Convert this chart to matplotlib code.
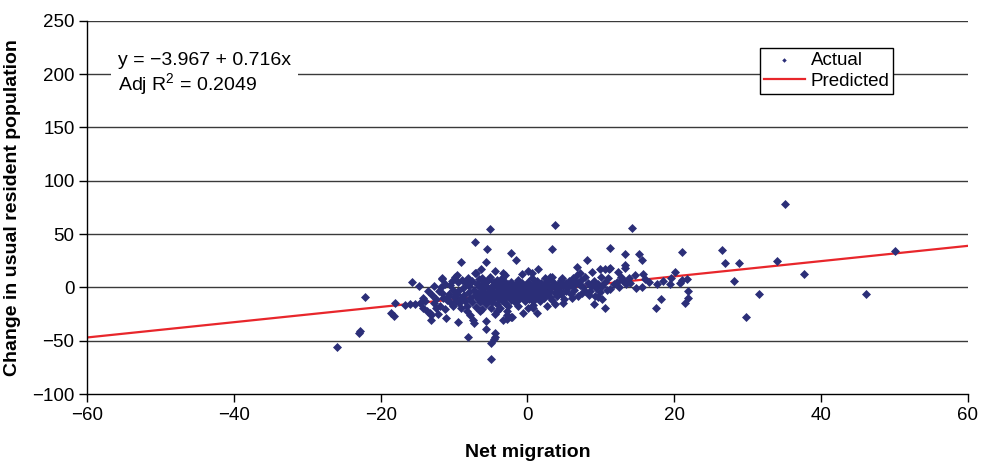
"""Scatter of change in usual resident population against net migration."""
import numpy as np
from matplotlib import pyplot as plt

plt.rcParams['font.family'] = ['Liberation Sans', 'DejaVu Sans']
plt.rcParams['mathtext.fontset'] = 'custom'
plt.rcParams['mathtext.rm'] = 'Liberation Sans'

# (net migration, change in population)
actual_pts = [
    # outliers and sparse points
    (-26.0, -56), (-23.0, -43), (-22.8, -41), (-22.1, -8.6), (-18.6, -24.2),
    (-18.2, -26.4), (-18.0, -14.2), (-16.7, -16.7), (-16.0, -16), (-15.3, -16),
    (-14.6, -14.5), (-15.7, 4.9), (-14.8, 1.1), (-12.7, 1.4), (-14.2, -9.8),
    (-14.0, -13), (-14.3, -19.2), (-13.7, -22.3), (-13.3, -23.9), (-13.1, -25.5),
    (-13.2, -30.2), (-12.4, -19.2), (-11.9, -17.6), (-12.2, -24.8), (-11.1, -28.6),
    (-11.6, -5.2), (-10.7, -6.1), (-10.1, -2), (-9.4, -3.6), (-11.7, 7.7),
    (-11.6, 8.6), (-10.6, 2.3), (-9.9, 10.1), (-9.6, 11.7), (-9.0, 24.2),
    (-7.2, 42.4), (-9.4, -32.6), (-8.1, -46.4), (-7.3, -33.6), (-8.3, -22.3),
    (-7.8, -25.5), (-7.4, -30.2), (-6.5, -22.3), (-5.6, -31.7), (-5.7, -38.6),
    (-4.4, -42.6), (-4.4, -46.7), (-4.5, -48.5), (-5.0, -52), (-5.0, -67),
    (-3.7, -19.2), (-2.8, -25.5), (-3.3, -30.2), (-4.2, -22.3), (-5.1, 54.5),
    (3.7, 58.6), (-5.5, 36.1), (-2.2, 32.3), (3.4, 36.1), (11.2, 37.3),
    (-5.6, 24.0), (-1.5, 25.8), (8.1, 25.8), (6.8, 19.5), (-6.3, 17.3),
    (-7.0, 13.3), (-4.4, 15.7), (-3.3, 13.9), (-3.1, 11.7), (-0.8, 12.7),
    (0.1, 15.7), (0.6, 13.9), (1.4, 17.3), (3.1, 9.6), (2.4, 8.6),
    (3.3, 10.1), (4.7, 8.6), (6.2, 8.6), (6.7, 11.7), (7.8, 10.1),
    (8.8, 14.8), (7.1, 13.3), (9.9, 17), (10.6, 17.5), (11.1, 17),
    (12.3, 14.8), (10.0, 10.1), (11.0, 8.6), (9.6, -9.2), (10.2, -10.8),
    (9.1, -15.5), (10.6, -19.7), (-2.2, -27.3), (-2.8, -29.5), (-2.1, -27.6),
    (-0.6, -23.6), (0.1, -18.9), (1.3, -23.7), (0.8, -19.5), (0.8, -16.1),
    (2.6, -17.4), (3.7, -15.1), (4.9, -15), (1.7, -13), (6.0, -9.8),
    (7.4, -5.2), (8.5, -3.6), (9.2, -8.2), (-1.3, -17.6), (-3.1, -14.5),
    (-2.8, -22.3), (14.3, 55.5), (13.3, 31.4), (15.2, 31.1), (15.6, 25.8),
    (13.3, 21.1), (13.3, 18), (11.2, 18), (14.6, 11.4), (15.7, 12.7),
    (16.0, 7.7), (13.2, 6.4), (13.4, 3.3), (12.2, 5.4), (12.4, 0.7),
    (14.0, 3.9), (11.2, -1.4), (15.6, 0.7), (17.6, 3), (17.5, -19.5),
    (18.2, -11), (19.4, 3), (19.6, 8.6), (20.1, 14.2), (21.0, 33.6),
    (20.8, 3.9), (21.1, 7), (21.7, 8), (21.9, -3.3), (21.8, -10.1),
    (21.5, -14.8), (26.5, 35.1), (26.9, 22.7), (28.8, 22.7), (28.1, 6.1),
    (29.8, -27.3), (31.6, -6.4), (35.1, 78), (34.0, 24.6), (37.6, 12.4),
    (46.1, -6.1), (50.1, 34.5), (-8.1, 9.2), (-7.2, 13.3), (-6.2, 8.6),
    (-5.3, 8), (-4.2, 7), (-3.5, 8.6), (3.7, 0.7), (5.1, 2.3),
    (6.0, 2.3), (6.9, 3.9),
    # dense core
    (-11.5, -10), (-11.0, -12), (-10.8, -8), (-10.5, -14), (-10.2, -17),
    (-10.0, -9), (-9.8, -12.5), (-9.6, -6), (-9.3, -15), (-9.1, -19),
    (-9.0, -10), (-8.8, -1), (-8.7, -7), (-8.5, -13), (-8.4, 4),
    (-8.2, -17), (-8.0, -4), (-7.9, 1), (-7.8, -10), (-7.6, -14),
    (-7.5, 6), (-7.3, -2), (-7.2, -7), (-7.0, -18), (-6.9, 3),
    (-6.8, -11), (-6.7, -5), (-6.6, 8), (-6.5, -14), (-6.4, 0),
    (-6.3, -8), (-6.2, -20), (-6.1, 4), (-6.0, -3), (-6.0, -12),
    (-5.9, -6), (-5.8, 2), (-5.7, -16), (-5.6, -9), (-5.5, 6),
    (-5.4, -1), (-5.3, -12), (-5.2, -4), (-5.1, 10), (-5.0, -19),
    (-5.0, -7), (-4.9, 1), (-4.8, -14), (-4.7, -3), (-4.6, 5),
    (-4.5, -10), (-4.4, -25), (-4.3, -6), (-4.2, 2), (-4.1, -16),
    (-4.0, -1), (-3.9, -11), (-3.8, 4), (-3.7, -8), (-3.6, -4),
    (-3.5, 1), (-3.4, -13), (-3.3, -2), (-3.2, 6), (-3.1, -7),
    (-3.0, -10), (-2.9, 0), (-2.8, -5), (-2.7, 3), (-2.6, -17),
    (-2.5, -8), (-2.4, -2), (-2.3, 5), (-2.2, -12), (-2.1, -4),
    (-2.0, 1), (-1.9, -7), (-1.8, -1), (-1.7, -14), (-1.6, 3),
    (-1.5, -9), (-1.4, -4), (-1.3, 7), (-1.2, -2), (-1.1, -11),
    (-1.0, 1), (-0.9, -6), (-0.8, 4), (-0.7, -3), (-0.6, -9),
    (-0.5, 0), (-0.4, -13), (-0.3, -5), (-0.2, 2), (-0.1, -8),
    (0.0, -2), (0.1, 5), (0.2, -11), (0.3, -4), (0.4, 1),
    (0.5, -7), (0.6, 9), (0.7, -1), (0.8, -13), (0.9, 3),
    (1.0, -5), (1.1, -9), (1.2, 0), (1.3, 6), (1.4, -3),
    (1.5, -8), (1.6, 2), (1.7, -1), (1.8, -6), (1.9, 4),
    (2.0, -4), (2.1, 1), (2.2, -10), (2.3, -2), (2.5, 3),
    (2.6, -6), (2.7, 6), (2.9, 0), (3.0, -9), (3.1, -3),
    (3.3, 2), (3.4, -12), (3.5, 5), (3.7, -5), (3.8, 0),
    (4.0, -8), (4.1, 3), (4.3, -2), (4.5, 7), (4.6, -6),
    (4.8, 1), (5.0, -11), (5.2, 4), (5.3, -3), (5.5, 0),
    (5.7, 6), (5.9, -6), (6.2, 1), (6.4, -2), (6.6, 5),
    (6.9, -8), (7.1, 2), (7.3, 7), (7.6, 0), (7.9, -3),
    (8.2, 4), (8.4, -7), (8.7, 1), (9.0, 6), (9.3, -1),
    (9.6, 3), (9.9, -4), (10.2, 1), (10.5, 5), (10.8, -2),
    (-13.5, -3), (-13.0, -7), (-12.5, -11), (-12.0, -3), (-11.8, 0),
    (-11.3, 3), (-12.8, -15), (-11.3, -20), (-10.3, 6), (-9.5, 5),
    (-8.9, 7), (13.8, 9), (12.8, 10), (14.8, -1), (16.5, 5),
    (18.5, 6), (11.8, 3), (12.9, 7),
]
net_migration = [p[0] for p in actual_pts]
pop_change = [p[1] for p in actual_pts]

intercept = -3.967
slope = 0.716
adj_r2 = 0.2049

x_ticks = [-60, -40, -20, 0, 20, 40, 60]
y_ticks = [-100, -50, 0, 50, 100, 150, 200, 250]

fig = plt.figure(figsize=(9.82, 4.62), dpi=100)
ax = fig.add_axes([0.0886, 0.147, 0.8971, 0.808])

for y in y_ticks[1:]:
    ax.axhline(y, color='#3a3a3a', lw=1.0, zorder=1)

line_x = np.array([x_ticks[0], x_ticks[-1]])
ax.plot(line_x, intercept + slope * line_x, color='#e8262b', lw=1.6,
        zorder=2, label='Predicted')
ax.scatter(net_migration, pop_change, marker='D', s=21, color='#2b2e78',
           linewidths=0, zorder=3, label='Actual')

ax.set_xlim(x_ticks[0], x_ticks[-1])
ax.set_ylim(y_ticks[0], y_ticks[-1])
ax.set_xticks(x_ticks)
ax.set_yticks(y_ticks)
ax.tick_params(labelsize=13.5, length=6, width=1, direction='out', pad=3)
for side in ['top', 'right']:
    ax.spines[side].set_visible(False)
for side in ['left', 'bottom']:
    ax.spines[side].set_linewidth(1.0)

ax.set_xlabel('Net migration', fontsize=14, fontweight='bold', labelpad=15)
ax.set_ylabel('Change in usual resident population', fontsize=14,
              fontweight='bold', labelpad=8)

ax.text(-55.8, 199,
        f'y = \u2212{abs(intercept)} + {slope}x\n'
        f'Adj R$^{{\\mathregular{{2}}}}$ = {adj_r2}',
        fontsize=14, va='center', ha='left', linespacing=1.15,
        bbox=dict(facecolor='white', edgecolor='none', pad=5), zorder=4)

handles, labels = ax.get_legend_handles_labels()
leg = ax.legend(handles[::-1], labels[::-1], loc='upper left',
                bbox_to_anchor=(0.764, 0.927), fontsize=13.5, frameon=True,
                fancybox=False, edgecolor='black', framealpha=1,
                handlelength=2.2, handletextpad=0.3, borderpad=0.2,
                labelspacing=0.2, markerscale=0.5, borderaxespad=0)
leg.get_frame().set_linewidth(1.0)
leg.set_zorder(5)

fig.savefig('out.png', dpi=100)
